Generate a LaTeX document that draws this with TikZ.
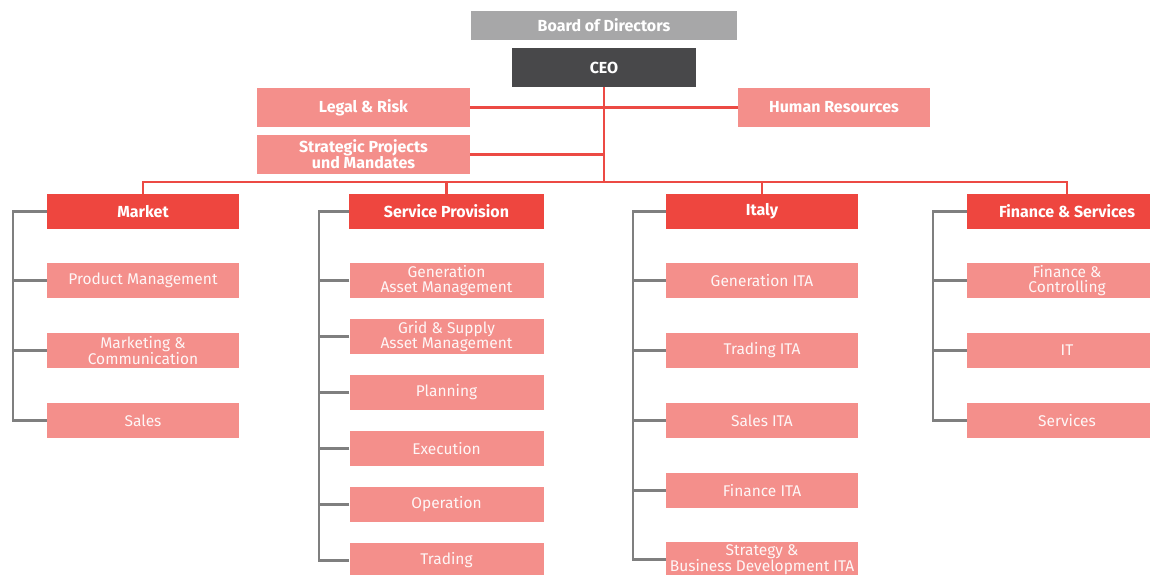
\documentclass[tikz,border=0pt]{standalone}
\usepackage{fontspec}
\setmainfont{Fira Sans}
\definecolor{boardgray}{HTML}{A7A7A8}
\definecolor{ceogray}{HTML}{48484A}
\definecolor{pinkbox}{HTML}{F48F8B}
\definecolor{redbox}{HTML}{EE463F}
\definecolor{redline}{HTML}{EC4A44}
\definecolor{grayline}{HTML}{7F7F7F}
\tikzset{
  box/.style={rectangle, inner sep=0pt, text=white, align=center},
  topbox/.style={box, fill=pinkbox, font=\fontsize{16}{16}\selectfont\bfseries},
  head/.style={box, fill=redbox, minimum height=35pt, font=\fontsize{16}{16}\selectfont\bfseries},
  sub/.style={box, fill=pinkbox, minimum height=35pt, text=white!92!pinkbox, font=\fontsize{15.5}{14.5}\selectfont},
  rl/.style={draw=redline, line width=2.3pt},
  gl/.style={draw=grayline, line width=2.3pt},
}
\begin{document}
\begin{tikzpicture}[x=1pt,y=-1pt]
\useasboundingbox (0,0) rectangle (1150,574);
\clip (0,0) rectangle (1150,574);
% top
\node[box, fill=boardgray, minimum width=266pt, minimum height=29pt, font=\fontsize{16}{16}\selectfont\bfseries] (board) at (604,25.5) {Board of Directors};
\node[box, fill=ceogray, minimum width=184pt, minimum height=39pt, font=\fontsize{16}{16}\selectfont\bfseries] (ceo) at (604,67.5) {CEO};
\node[topbox, minimum width=213pt, minimum height=39pt] (legal) at (363.5,107.5) {Legal \& Risk};
\node[topbox, minimum width=192pt, minimum height=39pt] (hr) at (834,107.5) {Human Resources};
\node[topbox, minimum width=213pt, minimum height=39pt] (strat) at (363.5,154.5) {Strategic Projects\\und Mandates};
\coordinate (bus) at (604,182);
% headers
\node[head, minimum width=192pt] (mk) at (143,211.5) {Market};
\node[head, minimum width=195pt] (sp) at (446.5,211.5) {Service Provision};
\node[head, minimum width=192pt] (it) at (762,211.5) {Italy};
\node[head, minimum width=200pt] (fs) at (1067,211.5) {Finance \& Services};
% market subs
\node[sub, minimum width=192pt] (pm) at (143,280.5) {Product Management};
\node[sub, minimum width=192pt] (mc) at (143,350.5) {Marketing \&\\Communication};
\node[sub, minimum width=192pt] (sa) at (143,420.5) {Sales};
% service provision subs
\node[sub, minimum width=194pt] (gam) at (446.5,280.5) {Generation\\Asset Management};
\node[sub, minimum width=194pt] (gsam) at (446.5,336.5) {Grid \& Supply\\Asset Management};
\node[sub, minimum width=194pt] (pl) at (446.5,392.5) {Planning};
\node[sub, minimum width=194pt] (ex) at (446.5,448.5) {Execution};
\node[sub, minimum width=194pt] (op) at (446.5,504.5) {Operation};
\node[sub, minimum width=194pt] (tr) at (446.5,560.5) {Trading};
% italy subs
\node[sub, minimum width=192pt] (gita) at (762,280.5) {Generation ITA};
\node[sub, minimum width=192pt] (tita) at (762,350.5) {Trading ITA};
\node[sub, minimum width=192pt] (sita) at (762,420.5) {Sales ITA};
\node[sub, minimum width=192pt] (fita) at (762,490.5) {Finance ITA};
\node[sub, minimum width=192pt] (bita) at (762,559.5) {Strategy \&\\Business Development ITA};
% finance subs
\node[sub, minimum width=200pt] (fc) at (1067,280.5) {Finance \&\\Controlling};
\node[sub, minimum width=200pt] (itx) at (1067,350.5) {IT};
\node[sub, minimum width=200pt] (se) at (1067,420.5) {Services};
% red connectors
\draw[rl] (ceo.south) -- (bus);
\draw[rl] (legal.east) -- (hr.west);
\draw[rl] (strat.east) -- (strat.east -| bus);
\draw[rl] (mk.north) |- (bus) -| (fs.north);
\draw[rl] (sp.north) -- (sp.north |- bus);
\draw[rl] (it.north) -- (it.north |- bus);
% gray brackets
\draw[gl] (mk.west) -- ++(-34,0) coordinate (mkb) |- (sa.west);
\draw[gl] (pm.west) -- (pm.west -| mkb);
\draw[gl] (mc.west) -- (mc.west -| mkb);
\draw[gl] (sp.west) -- ++(-29.5,0) coordinate (spb) |- (tr.west);
\foreach \n in {gam,gsam,pl,ex,op} \draw[gl] (\n.west) -- (\n.west -| spb);
\draw[gl] (it.west) -- ++(-33,0) coordinate (itb) |- (bita.west);
\foreach \n in {gita,tita,sita,fita} \draw[gl] (\n.west) -- (\n.west -| itb);
\draw[gl] (fs.west) -- ++(-34,0) coordinate (fsb) |- (se.west);
\foreach \n in {fc,itx} \draw[gl] (\n.west) -- (\n.west -| fsb);
\end{tikzpicture}
\end{document}
